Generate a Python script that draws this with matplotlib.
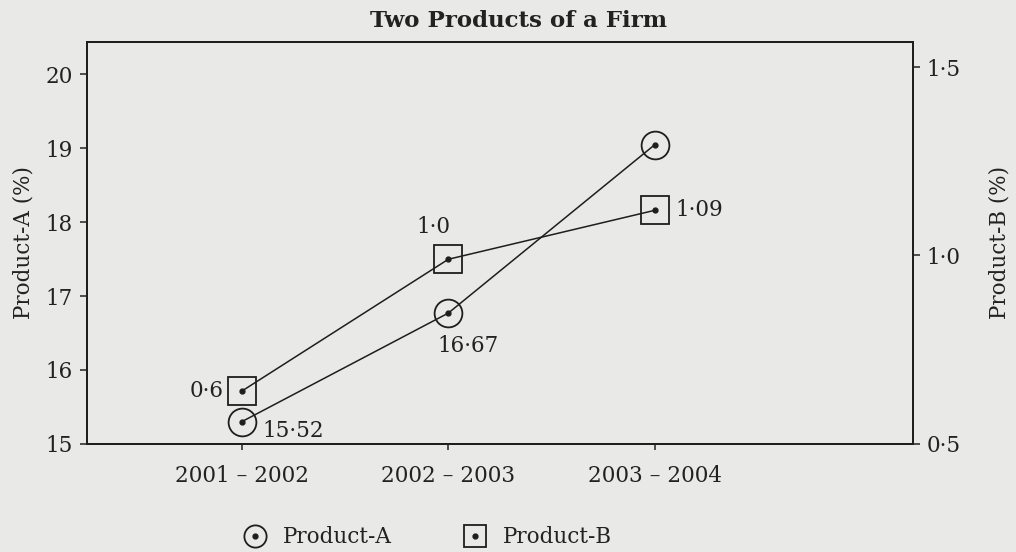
import matplotlib as mpl
import matplotlib.pyplot as plt
from matplotlib.lines import Line2D
from matplotlib.legend_handler import HandlerTuple

mpl.rcParams['font.family'] = 'DejaVu Serif'
mpl.rcParams['text.color'] = '#222222'
mpl.rcParams['axes.labelcolor'] = '#222222'
mpl.rcParams['xtick.color'] = '#222222'
mpl.rcParams['ytick.color'] = '#222222'

# data (positions; printed labels kept as text)
years = ['2001 – 2002', '2002 – 2003', '2003 – 2004']
product_a = [15.3, 16.77, 19.05]
product_b = [0.64, 0.99, 1.12]
labels_a = ['15·52', '16·67', '']
labels_b = ['0·6', '1·0', '1·09']
left_ticks = [15, 16, 17, 18, 19, 20]
right_ticks = [0.5, 1.0, 1.5]
right_ticklabels = ['0·5', '1·0', '1·5']

ink = '#1e1e1e'
bg = '#e9e9e7'
fs = 15.5

fig = plt.figure(figsize=(10.16, 5.52), dpi=100, facecolor=bg)
ax = fig.add_axes([0.0856, 0.196, 0.813, 0.728])
ax.set_facecolor(bg)
ax2 = ax.twinx()

xs = list(range(len(years)))

ax.plot(xs, product_a, '-', color=ink, lw=1.1, marker='o', ms=20,
        mfc='none', mec=ink, mew=1.3)
ax.plot(xs, product_a, 'o', color=ink, ms=3.5, ls='none')
ax2.plot(xs, product_b, '-', color=ink, lw=1.1, marker='s', ms=20,
         mfc='none', mec=ink, mew=1.3)
ax2.plot(xs, product_b, 'o', color=ink, ms=3.5, ls='none')

ax.set_xlim(-0.75, 3.25)
ax.set_ylim(15, 20.44)
ax2.set_ylim(0.5, 1.567)

ax.set_xticks(xs)
ax.set_xticklabels(years, fontsize=fs)
ax.set_yticks(left_ticks)
ax.set_yticklabels([str(t) for t in left_ticks], fontsize=fs)
ax2.set_yticks(right_ticks)
ax2.set_yticklabels(right_ticklabels, fontsize=fs)

ax.tick_params(axis='x', direction='out', length=4, width=1.1, pad=11)
ax.tick_params(axis='y', direction='out', length=5, width=1.1, pad=5)
ax2.tick_params(axis='y', direction='out', length=5, width=1.1, pad=5)

for a in (ax, ax2):
    for s in a.spines.values():
        s.set_linewidth(1.3)
        s.set_color(ink)

ax.set_ylabel('Product-A (%)', fontsize=fs, labelpad=8)
ax2.set_ylabel('Product-B (%)', fontsize=fs, labelpad=20)

# value labels
ax2.annotate(labels_b[0], (xs[0], product_b[0]), xytext=(-13, 0),
             textcoords='offset points', ha='right', va='center', fontsize=fs)
ax2.annotate(labels_b[1], (xs[1], product_b[1]), xytext=(-11, 23),
             textcoords='offset points', ha='center', va='center', fontsize=fs)
ax2.annotate(labels_b[2], (xs[2], product_b[2]), xytext=(15, 0),
             textcoords='offset points', ha='left', va='center', fontsize=fs)
ax.annotate(labels_a[0], (xs[0], product_a[0]), xytext=(15, -7),
            textcoords='offset points', ha='left', va='center', fontsize=fs)
ax.annotate(labels_a[1], (xs[1], product_a[1]), xytext=(14, -24),
            textcoords='offset points', ha='center', va='center', fontsize=fs)

fig.text(0.51, 0.962, 'Two Products of a Firm', ha='center', va='center',
         fontsize=16.5, fontweight='bold')

# legend proxies: open marker with centre dot
def key(marker):
    outer = Line2D([], [], ls='none', marker=marker, ms=16, mfc='none',
                   mec=ink, mew=1.3)
    dot = Line2D([], [], ls='none', marker='o', ms=3.5, color=ink)
    return (outer, dot)

fig.legend([key('o'), key('s')], ['Product-A', 'Product-B'],
           handler_map={tuple: HandlerTuple(ndivide=1)},
           loc='center', bbox_to_anchor=(0.42, 0.027), ncol=2,
           frameon=False, fontsize=fs, handlelength=1.2, columnspacing=3.25,
           handletextpad=0.7)

fig.savefig('out.png', dpi=100, facecolor=bg)
